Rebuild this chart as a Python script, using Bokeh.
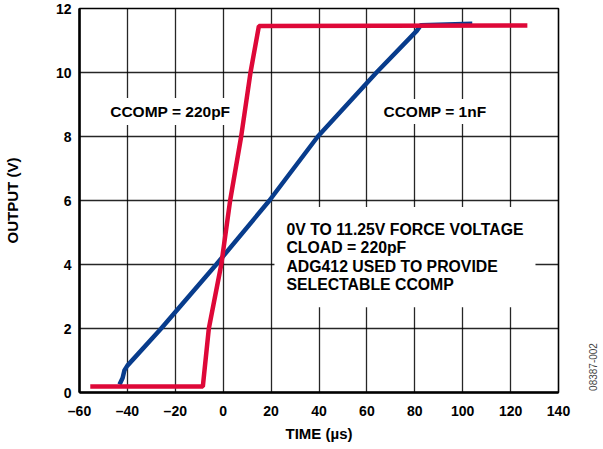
import math
from bokeh.plotting import figure
from bokeh.models import FixedTicker, Label, Range1d, LinearAxis
from bokeh.embed import file_html
from bokeh.resources import INLINE

# ---- data ----
red_t = [-55.5, -8.5, -6.0, -0.8, 2.9, 7.5, 11.4, 14.9, 127.0]
red_v = [0.19, 0.19, 2.0, 4.0, 6.0, 8.0, 10.0, 11.45, 11.47]

blue_t = [-43.3, -42.0, -41.2, -40.0, -25.9, -2.9, 19.3, 39.5, 64.0, 80.8, 82.5, 104.0]
blue_v = [0.25, 0.45, 0.70, 0.84, 2.0, 4.0, 6.0, 8.0, 10.0, 11.3, 11.48, 11.52]

x_ticks = [-60, -40, -20, 0, 20, 40, 60, 80, 100, 120, 140]
x_tick_labels = ["–60", "–40", "–20", "0", "20", "40", "60", "80", "100", "120", "140"]
y_ticks = [0, 2, 4, 6, 8, 10, 12]

RED = "#DE0838"
BLUE = "#083C8C"
FONT = "Liberation Sans"

p = figure(
    frame_width=479, frame_height=384,
    x_range=Range1d(-60, 140), y_range=Range1d(0, 12),
    output_backend="svg", toolbar_location=None,
    min_border_left=72, min_border_right=44, min_border_top=8, min_border_bottom=57,
)
p.background_fill_color = "white"
p.border_fill_color = "white"
p.outline_line_color = "black"
p.outline_line_width = 1.6

for ax in (p.xaxis, p.yaxis):
    ax.axis_line_color = "black"
    ax.axis_line_width = 2.5
    ax.major_tick_in = 0
    ax.major_tick_out = 0
    ax.minor_tick_line_color = None
    ax.major_label_text_font = FONT
    ax.major_label_text_font_style = "bold"
    ax.major_label_text_font_size = "14px"
    ax.major_label_text_color = "black"
    ax.axis_label_text_font = FONT
    ax.axis_label_text_font_style = "bold"
    ax.axis_label_text_font_size = "15px"
    ax.axis_label_text_color = "black"

p.xaxis.ticker = FixedTicker(ticks=x_ticks)
p.xaxis.major_label_overrides = {t: s for t, s in zip(x_ticks, x_tick_labels)}
p.yaxis.ticker = FixedTicker(ticks=y_ticks)
p.xaxis.axis_label = "TIME (µs)"
p.yaxis.axis_label = "OUTPUT (V)"
p.xaxis.major_label_standoff = 10
p.xaxis.axis_label_standoff = 3
p.yaxis.major_label_standoff = 8
p.yaxis.axis_label_standoff = 32

p.xgrid.ticker = FixedTicker(ticks=x_ticks)
p.ygrid.ticker = FixedTicker(ticks=y_ticks)
for g in (p.xgrid, p.ygrid):
    g.grid_line_color = "black"
    g.grid_line_width = 1.3
    g.grid_line_alpha = 0.85

# figure id on the right, drawn as the single label of a bare right axis
id_axis = LinearAxis(ticker=FixedTicker(ticks=[0.05]),
                     major_label_overrides={0.05: "08387-002"},
                     major_label_orientation=math.pi / 2,
                     major_label_standoff=29,
                     major_label_text_font=FONT, major_label_text_font_size="10px",
                     major_label_text_color="#444444",
                     axis_line_color=None, major_tick_line_color=None,
                     minor_tick_line_color=None)
p.add_layout(id_axis, "right")

p.line(blue_t, blue_v, line_color=BLUE, line_width=4.5)
p.line(red_t, red_v, line_color=RED, line_width=4.5)

common = dict(text_font=FONT, text_font_style="bold",
              text_color="black", background_fill_color="white")

p.add_layout(Label(x=-22.1, y=8.78, text="CCOMP = 220pF", text_align="center",
                   text_baseline="middle", padding=(9, 5), text_font_size="15.5px", **common))
p.add_layout(Label(x=88.4, y=8.78, text="CCOMP = 1nF", text_align="center",
                   text_baseline="middle", padding=(9, 4), text_font_size="15.5px", **common))
p.add_layout(Label(x=21.4, y=4.23,
                   text="0V TO 11.25V FORCE VOLTAGE\nCLOAD = 220pF\nADG412 USED TO PROVIDE\nSELECTABLE CCOMP",
                   text_align="left", text_baseline="middle", text_line_height=1.08,
                   padding=(12, 14), text_font_size="15.8px", **common))

open("out.html", "w").write(file_html(p, INLINE))
